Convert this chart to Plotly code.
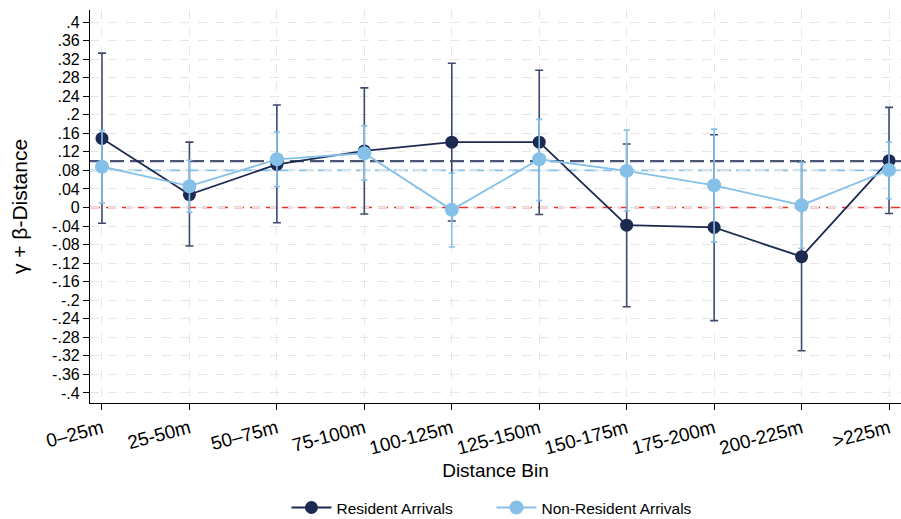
import plotly.graph_objects as go

categories = ["0–25m", "25-50m", "50–75m", "75-100m", "100-125m", "125-150m",
              "150-175m", "175-200m", "200-225m", ">225m"]

res_est = [0.149, 0.028, 0.093, 0.122, 0.141, 0.141, -0.038, -0.043, -0.106, 0.101]
res_hi = [0.333, 0.141, 0.221, 0.258, 0.311, 0.296, 0.137, 0.157, 0.098, 0.216]
res_lo = [-0.034, -0.083, -0.033, -0.014, -0.029, -0.015, -0.214, -0.244, -0.309, -0.013]

non_est = [0.088, 0.046, 0.104, 0.117, -0.005, 0.104, 0.079, 0.048, 0.005, 0.081]
non_hi = [0.166, 0.102, 0.163, 0.176, 0.074, 0.190, 0.167, 0.169, 0.097, 0.141]
non_lo = [0.010, -0.010, 0.045, 0.059, -0.085, 0.015, -0.007, -0.074, -0.088, 0.019]

res_mean = 0.10
non_mean = 0.08

y_ticks = [-0.4, -0.36, -0.32, -0.28, -0.24, -0.2, -0.16, -0.12, -0.08, -0.04, 0,
           0.04, 0.08, 0.12, 0.16, 0.2, 0.24, 0.28, 0.32, 0.36, 0.4]
y_tick_text = ["-.4", "-.36", "-.32", "-.28", "-.24", "-.2", "-.16", "-.12", "-.08", "-.04", "0",
               ".04", ".08", ".12", ".16", ".2", ".24", ".28", ".32", ".36", ".4"]

DARK = "#1c2a52"
DARK_BAR = "#3d4a6e"
LIGHT = "#85c0e9"
FONT = "Liberation Sans, Arial, sans-serif"

xs = list(range(len(categories)))

fig = go.Figure()
fig.add_trace(go.Scatter(
    x=xs, y=res_est, mode="lines+markers", name="Resident Arrivals",
    line=dict(color=DARK, width=1.8),
    marker=dict(color=DARK, size=13),
    error_y=dict(type="data", symmetric=False,
                 array=[h - e for h, e in zip(res_hi, res_est)],
                 arrayminus=[e - l for e, l in zip(res_est, res_lo)],
                 color=DARK_BAR, thickness=1.6, width=4),
))
fig.add_trace(go.Scatter(
    x=xs, y=non_est, mode="lines+markers", name="Non-Resident Arrivals",
    line=dict(color=LIGHT, width=1.8),
    marker=dict(color=LIGHT, size=14),
    error_y=dict(type="data", symmetric=False,
                 array=[h - e for h, e in zip(non_hi, non_est)],
                 arrayminus=[e - l for e, l in zip(non_est, non_lo)],
                 color=LIGHT, thickness=1.6, width=3),
))

for yv, col, dash, w in [(res_mean, "#4a5573", "14px,6px", 2.2),
                         (non_mean, LIGHT, "14px,5px", 1.8),
                         (0, "#e8322b", "10px,6px", 1.6)]:
    fig.add_shape(type="line", xref="paper", x0=0, x1=1, yref="y", y0=yv, y1=yv,
                  line=dict(color=col, width=w, dash=dash), layer="between")

fig.update_layout(
    width=901, height=519,
    margin=dict(l=90, r=0, t=10, b=116, autoexpand=False),
    paper_bgcolor="white", plot_bgcolor="white",
    font=dict(family=FONT, color="black", size=16),
    showlegend=True,
    legend=dict(orientation="h", x=0.495, xanchor="center", xref="paper",
                y=-0.267, yanchor="middle", font=dict(size=15.5),
                itemwidth=40, entrywidth=150, traceorder="normal"),
)
fig.update_xaxes(
    range=[-0.137, 9.137],
    tickmode="array", tickvals=xs, ticktext=categories,
    tickangle=-15, tickfont=dict(size=19),
    showline=True, linecolor="black", linewidth=1.2,
    ticks="outside", ticklen=6, tickcolor="black",
    showgrid=True, gridcolor="#e6e6e6", griddash="dash", gridwidth=1.2,
    zeroline=False,
    title=dict(text="Distance Bin", font=dict(size=19), standoff=6),
)
fig.update_yaxes(
    range=[-0.4216, 0.426],
    tickmode="array", tickvals=y_ticks, ticktext=y_tick_text,
    tickfont=dict(size=16),
    showline=True, linecolor="black", linewidth=1.2,
    ticks="outside", ticklen=6, tickcolor="black",
    showgrid=True, gridcolor="#e6e6e6", griddash="dash", gridwidth=1.2,
    zeroline=False,
    title=dict(text="γ + β-Distance", font=dict(size=21), standoff=18),
)

fig.write_html("out.html")
